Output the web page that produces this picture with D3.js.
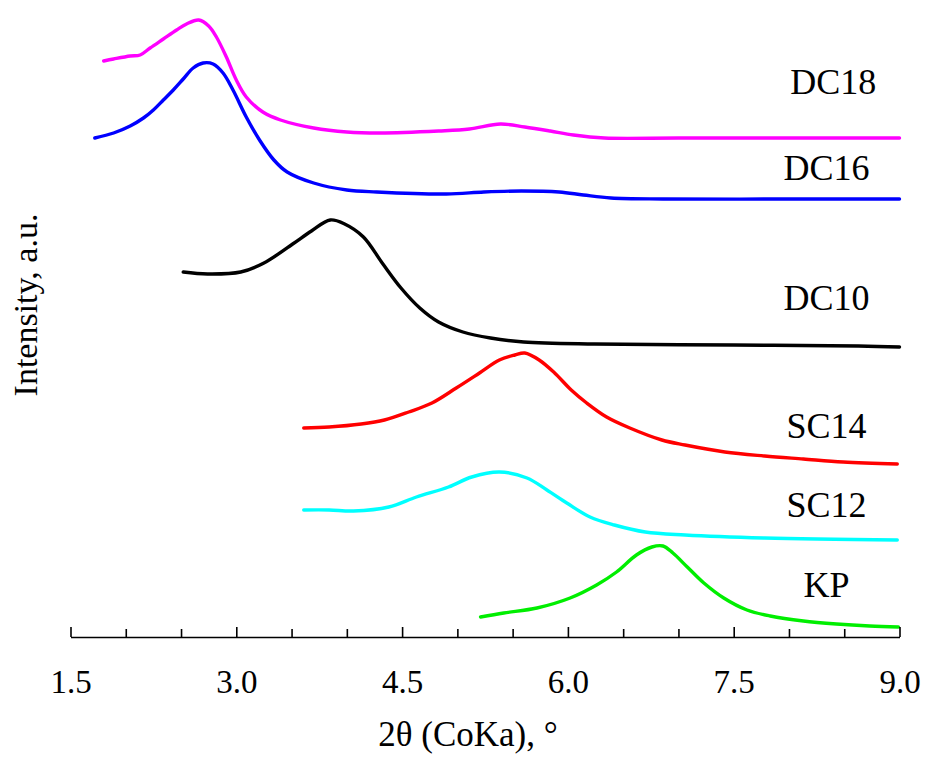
<!DOCTYPE html>
<html>
<head>
<meta charset="utf-8">
<script src="https://cdn.jsdelivr.net/npm/d3@7"></script>
<style>
  html, body { margin: 0; padding: 0; background: #fff; }
  svg { display: block; }
  text { font-family: "Liberation Serif", "Times New Roman", serif; fill: #000; }
</style>
</head>
<body>
<svg id="chart" width="930" height="758"></svg>
<script>
// ---- data (2θ in degrees, intensity in arbitrary units) ----
const seriesNames = ["DC18", "DC16", "DC10", "SC14", "SC12", "KP"];
const seriesColors = ["#ff00ff", "#0000ff", "#000000", "#ff0000", "#00ffff", "#00ee00"];

const dc18X = [1.80, 1.89, 2.04, 2.13, 2.22, 2.34, 2.46, 2.55, 2.66, 2.75, 2.82, 2.91, 3.00, 3.09, 3.24, 3.40, 3.70, 4.00, 4.30, 4.83, 5.11, 5.39, 5.61, 5.84, 6.05, 6.33, 7.00, 8.00, 9.00];
const dc18Y = [576, 578, 581, 582, 589, 598, 607, 613, 617, 611, 600, 580, 557, 540, 525, 517, 509, 505, 504, 506, 508, 513, 510, 506, 502, 499, 499, 499, 499];

const dc16X = [1.72, 1.89, 2.04, 2.16, 2.25, 2.34, 2.43, 2.52, 2.61, 2.70, 2.79, 2.88, 2.97, 3.09, 3.21, 3.34, 3.46, 3.70, 4.00, 4.27, 4.90, 5.24, 5.58, 5.92, 6.14, 6.39, 6.86, 8.00, 9.00];
const dc16Y = [499, 504, 511, 519, 527, 537, 547, 558, 569, 574, 573, 564, 547, 520, 497, 477, 465, 454, 447, 445, 443, 445, 446, 445, 442, 439, 438, 438, 438];

const dc10X = [2.52, 2.74, 3.04, 3.25, 3.51, 3.68, 3.85, 3.98, 4.15, 4.32, 4.49, 4.66, 4.83, 5.05, 5.30, 5.60, 6.24, 7.50, 8.63, 9.00];
const dc10Y = [365, 363, 365, 374, 393, 406, 417, 413, 400, 374, 349, 329, 315, 305, 299, 295, 293, 292, 291, 290];

const sc14X = [3.61, 3.84, 4.13, 4.34, 4.56, 4.77, 4.99, 5.20, 5.38, 5.52, 5.61, 5.74, 5.88, 6.03, 6.17, 6.35, 6.56, 6.85, 7.06, 7.42, 7.78, 8.13, 8.49, 8.98];
const sc14Y = [209, 210, 213, 217, 225, 234, 249, 264, 277, 282, 284, 277, 264, 247, 234, 220, 209, 197, 192, 185, 181, 178, 175, 173];

const sc12X = [3.61, 3.84, 4.06, 4.38, 4.63, 4.92, 5.13, 5.38, 5.63, 5.81, 5.99, 6.20, 6.42, 6.70, 7.06, 7.78, 8.98];
const sc12Y = [127, 127, 126, 130, 140, 150, 160, 165, 159, 147, 134, 120, 112, 105, 102, 99, 97];

const kpX = [5.21, 5.42, 5.72, 6.02, 6.26, 6.44, 6.62, 6.76, 6.86, 6.95, 7.08, 7.23, 7.41, 7.62, 7.83, 8.13, 8.43, 8.73, 8.99];
const kpY = [20, 24, 29, 39, 52, 65, 82, 90, 91, 84, 70, 54, 39, 27, 21, 16, 13, 11, 10];

// label anchors in data space (2θ, intensity)
const labelX = [8.40, 8.34, 8.34, 8.34, 8.34, 8.34];
const labelY = [543, 457, 327, 199, 120, 40];

const xTickValues = [1.5, 2.0, 2.5, 3.0, 3.5, 4.0, 4.5, 5.0, 5.5, 6.0, 6.5, 7.0, 7.5, 8.0, 8.5, 9.0];
const xTickLabels = ["1.5", "3.0", "4.5", "6.0", "7.5", "9.0"];
const xTitle = "2θ (CoKa), °";
const yTitle = "Intensity, a.u.";

// ---- build ----
const seriesX = [dc18X, dc16X, dc10X, sc14X, sc12X, kpX];
const seriesY = [dc18Y, dc16Y, dc10Y, sc14Y, sc12Y, kpY];

const svg = d3.select("#chart");
svg.append("rect").attr("width", 930).attr("height", 758).attr("fill", "#fff");

const x = d3.scaleLinear().domain([1.5, 9.0]).range([70.5, 899.5]);
const y = d3.scaleLinear().domain([0, 637]).range([637, 0]);

const line = d3.line()
  .x(d => x(d[0]))
  .y(d => y(d[1]))
  .curve(d3.curveCatmullRom.alpha(0.5));

seriesNames.forEach((name, i) => {
  const pts = seriesX[i].map((v, j) => [v, seriesY[i][j]]);
  svg.append("path")
    .datum(pts)
    .attr("fill", "none")
    .attr("stroke", seriesColors[i])
    .attr("stroke-width", 3.4)
    .attr("stroke-linejoin", "round")
    .attr("stroke-linecap", "round")
    .attr("d", line);
  svg.append("text")
    .attr("x", x(labelX[i]))
    .attr("y", y(labelY[i]))
    .attr("text-anchor", "middle")
    .attr("font-size", 36)
    .text(name);
});

// x axis
const labelSet = new Set(xTickLabels);
const axis = d3.axisBottom(x)
  .tickValues(xTickValues)
  .tickSizeInner(-8)
  .tickSizeOuter(0)
  .tickFormat(d => labelSet.has(d.toFixed(1)) ? d.toFixed(1) : "");

const gx = svg.append("g").attr("transform", "translate(0,637)").call(axis);
gx.select(".domain").attr("stroke", "#000").attr("stroke-width", 1.6);
gx.selectAll(".tick line")
  .attr("stroke", "#000").attr("stroke-width", 1.6)
  .attr("y2", d => labelSet.has(d.toFixed(1)) ? -10 : -8);
gx.selectAll(".tick text")
  .attr("y", 56)
  .attr("dy", 0)
  .attr("font-size", 33)
  .attr("font-family", "Liberation Serif, Times New Roman, serif")
  .attr("fill", "#000");

svg.append("text")
  .attr("x", 468)
  .attr("y", 746)
  .attr("text-anchor", "middle")
  .attr("font-size", 35)
  .text(xTitle);

svg.append("text")
  .attr("transform", "translate(37,305) rotate(-90)")
  .attr("text-anchor", "middle")
  .attr("font-size", 34)
  .text(yTitle);
</script>
</body>
</html>
